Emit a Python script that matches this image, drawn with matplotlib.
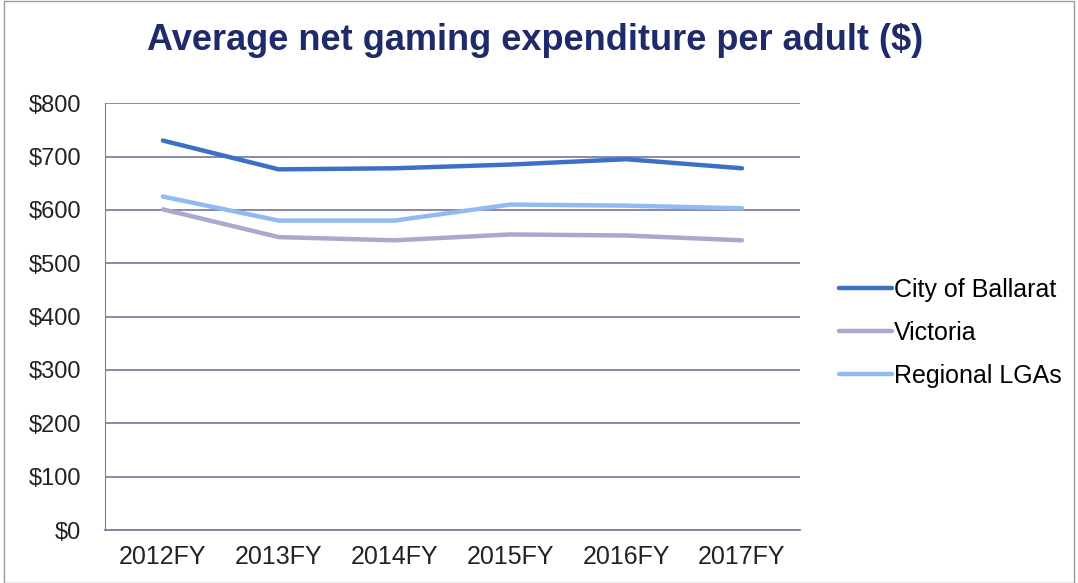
import matplotlib.pyplot as plt
from matplotlib.patches import Rectangle

plt.rcParams['font.family'] = ['Liberation Sans', 'DejaVu Sans']

# Data
years = ["2012FY", "2013FY", "2014FY", "2015FY", "2016FY", "2017FY"]
ballarat = [730, 676, 678, 685, 695, 678]
victoria = [601, 549, 543, 554, 552, 543]
regional = [625, 580, 580, 610, 608, 603]

fig = plt.figure(figsize=(10.78, 5.83), dpi=100)
ax = fig.add_axes([0.0974, 0.0909, 0.6446, 0.7321])

x = [i + 0.5 for i in range(len(years))]
ax.plot(x, ballarat, color="#3b70c6", lw=3.2, label="City of Ballarat", solid_capstyle="round")
ax.plot(x, victoria, color="#a9a8cf", lw=3.2, label="Victoria", solid_capstyle="round")
ax.plot(x, regional, color="#8fbaf2", lw=3.2, label="Regional LGAs", solid_capstyle="round")

ax.set_xlim(0, 6)
ax.set_ylim(0, 800)
ax.set_yticks(range(0, 801, 100))
ax.set_yticklabels([f"${v}" for v in range(0, 801, 100)])
ax.set_xticks(x)
ax.set_xticklabels(years)
ax.yaxis.grid(True, color="#7f7fa6", lw=1.3)
ax.set_axisbelow(True)
for s in ["top", "right"]:
    ax.spines[s].set_visible(False)
ax.spines["left"].set_color("#7f7fa6")
ax.spines["bottom"].set_color("#7f7fa6")
ax.spines["bottom"].set_linewidth(1.3)
ax.tick_params(length=0, labelcolor="#222222")
ax.tick_params(axis="x", labelsize=18, pad=11)
ax.tick_params(axis="y", labelsize=17, pad=17)

fig.text(0.496, 0.931, "Average net gaming expenditure per adult ($)", ha="center", va="center",
         fontsize=26, fontweight="bold", color="#1f2a6b")

ax.legend(loc="center left", bbox_to_anchor=(1.024, 0.462), frameon=False, fontsize=18,
          handlelength=2.1, handletextpad=0.1, labelspacing=0.75)

fig.patches.append(Rectangle((0.004, 0), 0.992, 0.999, transform=fig.transFigure,
                             fill=False, edgecolor="#9a9a9a", lw=1))

fig.savefig("out.png", dpi=100)
